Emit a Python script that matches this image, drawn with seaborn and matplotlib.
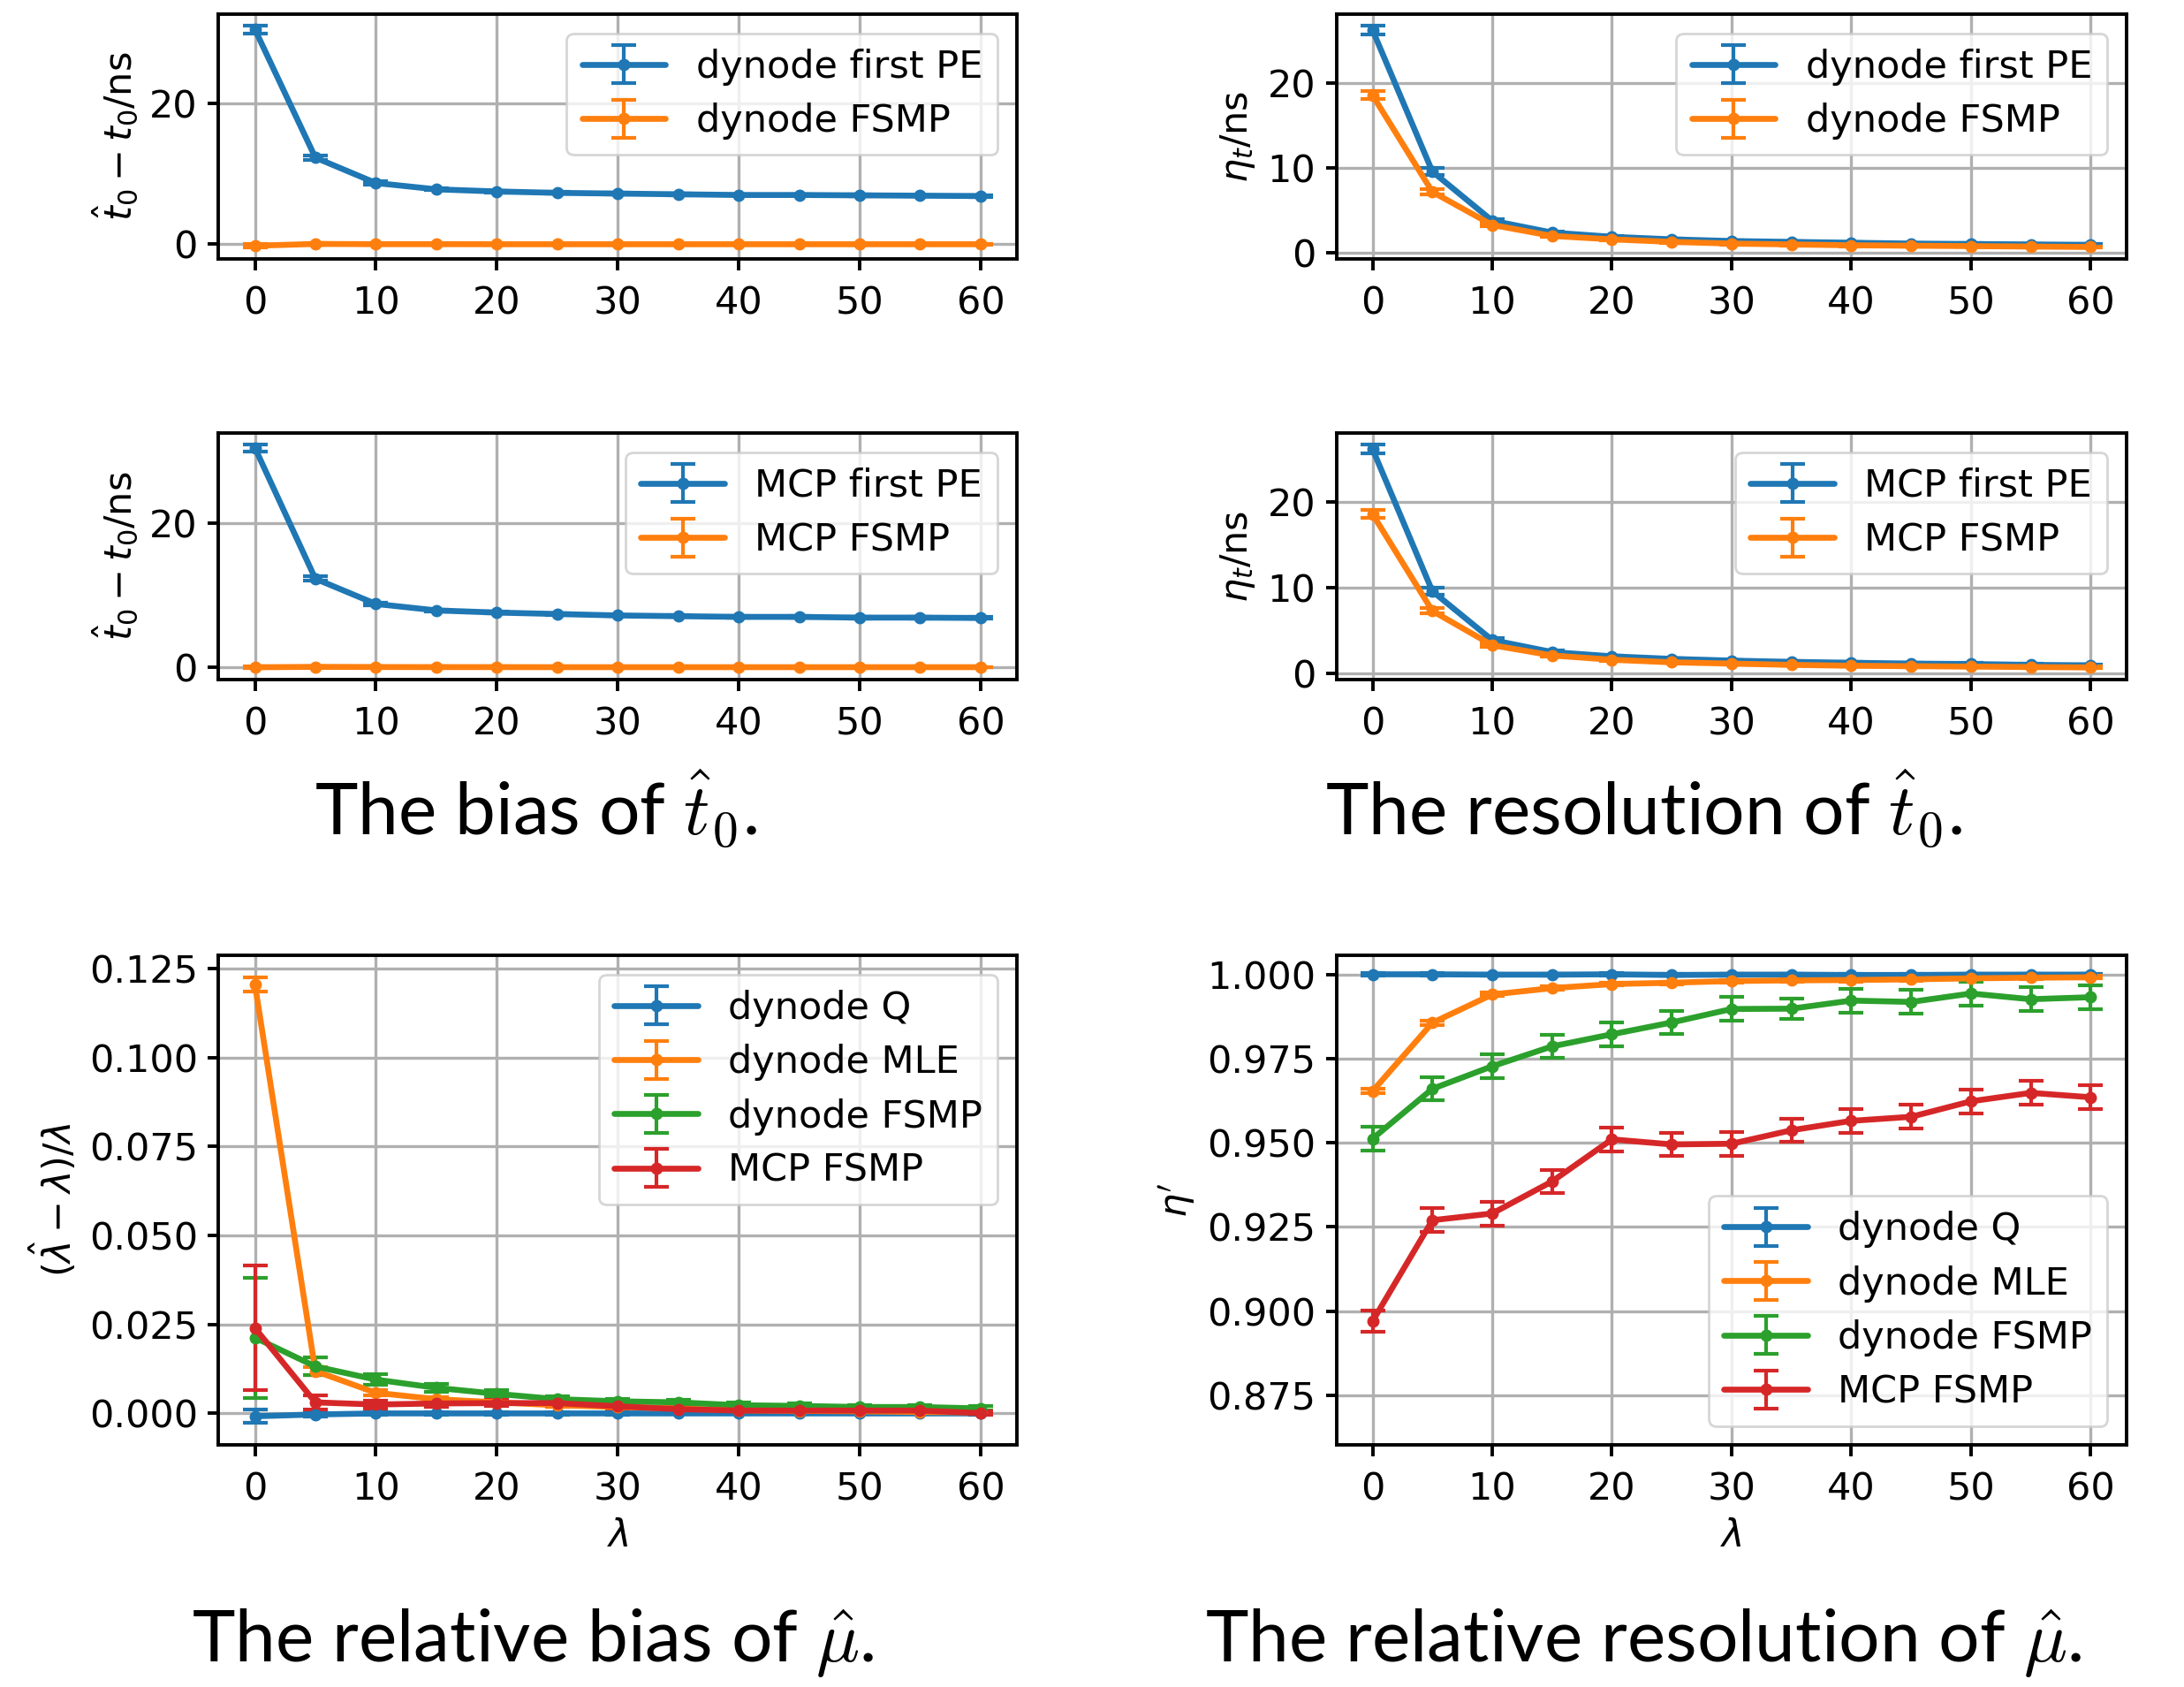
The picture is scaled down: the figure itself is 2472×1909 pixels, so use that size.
import numpy as np
import seaborn as sns
import matplotlib
matplotlib.use("Agg")
import matplotlib.pyplot as plt
from matplotlib.ticker import MultipleLocator, FormatStrFormatter

lam = [0, 5, 10, 15, 20, 25, 30, 35, 40, 45, 50, 55, 60]

# bias of t0 (ns)
dyn_first_bias = [30.5, 12.3, 8.7, 7.8, 7.5, 7.3, 7.2, 7.1, 7.0, 7.0, 6.95, 6.9, 6.85]
dyn_first_bias_err = [0.58, 0.3, 0.2, 0.15, 0.12, 0.1, 0.1, 0.1, 0.1, 0.1, 0.1, 0.1, 0.1]
dyn_fsmp_bias = [-0.2, 0.05, 0.02, 0.02, 0.01, 0.01, 0.01, 0.01, 0.01, 0.01, 0.01, 0.01, 0.01]
dyn_fsmp_bias_err = [0.3, 0.1, 0.08, 0.07, 0.06, 0.05, 0.05, 0.05, 0.05, 0.05, 0.05, 0.05, 0.05]
mcp_first_bias = [30.5, 12.3, 8.8, 7.9, 7.6, 7.4, 7.2, 7.1, 7.0, 7.0, 6.9, 6.9, 6.85]
mcp_first_bias_err = [0.5, 0.3, 0.2, 0.15, 0.12, 0.1, 0.1, 0.1, 0.1, 0.1, 0.1, 0.1, 0.1]
mcp_fsmp_bias = [0.0, 0.05, 0.03, 0.02, 0.02, 0.01, 0.01, 0.01, 0.01, 0.01, 0.01, 0.01, 0.01]
mcp_fsmp_bias_err = [0.15, 0.08, 0.06, 0.05, 0.05, 0.04, 0.04, 0.04, 0.04, 0.04, 0.04, 0.04, 0.04]

# resolution of t0 (ns)
dyn_first_res = [26.3, 9.6, 3.8, 2.4, 1.9, 1.6, 1.4, 1.3, 1.2, 1.1, 1.05, 1.0, 0.95]
dyn_first_res_err = [0.55, 0.4, 0.2, 0.15, 0.12, 0.1, 0.1, 0.1, 0.1, 0.1, 0.1, 0.1, 0.1]
dyn_fsmp_res = [18.6, 7.2, 3.3, 2.0, 1.6, 1.3, 1.1, 1.0, 0.9, 0.85, 0.8, 0.75, 0.7]
dyn_fsmp_res_err = [0.48, 0.3, 0.2, 0.15, 0.12, 0.1, 0.1, 0.1, 0.1, 0.1, 0.1, 0.1, 0.1]
mcp_first_res = [26.2, 9.6, 3.9, 2.5, 2.0, 1.7, 1.5, 1.35, 1.25, 1.15, 1.1, 1.0, 0.95]
mcp_first_res_err = [0.55, 0.4, 0.2, 0.15, 0.12, 0.1, 0.1, 0.1, 0.1, 0.1, 0.1, 0.1, 0.1]
mcp_fsmp_res = [18.6, 7.3, 3.3, 2.1, 1.6, 1.3, 1.15, 1.0, 0.9, 0.85, 0.8, 0.75, 0.7]
mcp_fsmp_res_err = [0.45, 0.3, 0.2, 0.15, 0.12, 0.1, 0.1, 0.1, 0.1, 0.1, 0.1, 0.1, 0.1]

# relative bias of mu
q_bias = [-0.0008, -0.0003, 0.0, 0.0, 0.0, 0.0, 0.0, 0.0, 0.0, 0.0, 0.0, 0.0, 0.0]
q_bias_err = [0.0018, 0.0006, 0.0004, 0.0003, 0.0003, 0.0003, 0.0003, 0.0002, 0.0002, 0.0002, 0.0002, 0.0002, 0.0002]
mle_bias = [0.1206, 0.0119, 0.0058, 0.004, 0.0031, 0.0023, 0.0018, 0.0014, 0.0009, 0.0007, 0.0006, 0.0004, 0.0003]
mle_bias_err = [0.0019, 0.0012, 0.0008, 0.0006, 0.0005, 0.0004, 0.0004, 0.0004, 0.0003, 0.0003, 0.0003, 0.0003, 0.0003]
fsmp_bias = [0.0213, 0.0132, 0.0095, 0.0072, 0.0055, 0.004, 0.0034, 0.0031, 0.0023, 0.0021, 0.0018, 0.0018, 0.0014]
fsmp_bias_err = [0.0169, 0.0025, 0.0015, 0.0012, 0.001, 0.0009, 0.0008, 0.0008, 0.0007, 0.0007, 0.0006, 0.0006, 0.0006]
mcp_bias = [0.024, 0.0031, 0.0025, 0.0028, 0.0029, 0.0029, 0.002, 0.0012, 0.0008, 0.0008, 0.0008, 0.0008, 0.0001]
mcp_bias_err = [0.0175, 0.002, 0.0012, 0.001, 0.0009, 0.0008, 0.0008, 0.0007, 0.0007, 0.0006, 0.0006, 0.0006, 0.0006]

# relative resolution of mu
q_res = [1.0, 1.0, 0.9999, 0.9999, 1.0, 0.9998, 0.9999, 0.9999, 0.9998, 0.9998, 0.9999, 0.9999, 0.9999]
q_res_err = [0.0003, 0.0003, 0.0003, 0.0003, 0.0003, 0.0003, 0.0003, 0.0003, 0.0003, 0.0003, 0.0003, 0.0003, 0.0003]
mle_res = [0.9653, 0.9856, 0.994, 0.9959, 0.9971, 0.9975, 0.998, 0.9982, 0.9983, 0.9985, 0.9988, 0.999, 0.9991]
mle_res_err = [0.0007, 0.0006, 0.0005, 0.0005, 0.0005, 0.0004, 0.0004, 0.0004, 0.0004, 0.0004, 0.0004, 0.0004, 0.0004]
fsmp_res = [0.9512, 0.966, 0.9727, 0.9786, 0.9822, 0.9857, 0.9897, 0.9898, 0.9922, 0.9918, 0.9943, 0.9926, 0.9932]
fsmp_res_err = [0.0035, 0.0035, 0.0035, 0.0035, 0.0035, 0.0035, 0.0035, 0.003, 0.0035, 0.0035, 0.0035, 0.0035, 0.0035]
mcp_res = [0.897, 0.927, 0.929, 0.9385, 0.951, 0.9495, 0.9497, 0.9537, 0.9565, 0.9577, 0.9623, 0.9648, 0.9635]
mcp_res_err = [0.0032, 0.0035, 0.0035, 0.0035, 0.0035, 0.0035, 0.0035, 0.0035, 0.0035, 0.0035, 0.0035, 0.0035, 0.0035]

FS = 15.5
sns.set_theme(style="ticks", palette="tab10", rc={
    "axes.grid": True, "grid.color": "#b0b0b0", "grid.linewidth": 1.2,
    "axes.edgecolor": "black", "axes.linewidth": 1.4,
    "text.color": "black", "axes.labelcolor": "black",
    "xtick.color": "black", "ytick.color": "black",
    "xtick.labelsize": FS, "ytick.labelsize": FS,
    "axes.labelsize": FS, "legend.fontsize": FS,
    "xtick.major.width": 1.4, "ytick.major.width": 1.4,
    "xtick.major.size": 4.5, "ytick.major.size": 4.5,
    "xtick.major.pad": 6, "ytick.major.pad": 4,
})
plt.rcParams["font.family"] = ["DejaVu Sans"]
pal = sns.color_palette("tab10")

fig = plt.figure(figsize=(12.36, 9.545), dpi=200)

def panel(rect, series, ylabel, legloc, xlabel=None):
    ax = fig.add_axes(rect)
    for (y, e, lab), c in zip(series, pal):
        ax.errorbar(lam, y, yerr=e, fmt=".-", color=c, label=lab,
                    lw=2.4, ms=8, capsize=5, elinewidth=1.5, capthick=1.5)
    ax.set_xticks([0, 10, 20, 30, 40, 50, 60])
    ax.set_ylabel(ylabel)
    if xlabel:
        ax.set_xlabel(xlabel)
    leg = ax.legend(loc=legloc, frameon=True, framealpha=0.8, edgecolor="0.8",
                    fancybox=True, labelspacing=0.45, handlelength=2.2)
    # legend handles look a bit heavier than the plotted lines
    for ln in leg.get_lines():
        if ln.get_linestyle() == "-":
            ln.set_linewidth(3.2)
    ax.grid(True)
    return ax

panel([0.1001, 0.8465, 0.3655, 0.1451],
      [(dyn_first_bias, dyn_first_bias_err, "dynode first PE"),
       (dyn_fsmp_bias, dyn_fsmp_bias_err, "dynode FSMP")],
      r"$\hat{t}_0 - t_0$/ns", "upper right")
panel([0.612, 0.8465, 0.3617, 0.1451],
      [(dyn_first_res, dyn_first_res_err, "dynode first PE"),
       (dyn_fsmp_res, dyn_fsmp_res_err, "dynode FSMP")],
      r"$\eta_t$/ns", "upper right")
panel([0.1001, 0.5972, 0.3655, 0.1461],
      [(mcp_first_bias, mcp_first_bias_err, "MCP first PE"),
       (mcp_fsmp_bias, mcp_fsmp_bias_err, "MCP FSMP")],
      r"$\hat{t}_0 - t_0$/ns", "upper right")
panel([0.612, 0.5972, 0.3617, 0.1461],
      [(mcp_first_res, mcp_first_res_err, "MCP first PE"),
       (mcp_fsmp_res, mcp_fsmp_res_err, "MCP FSMP")],
      r"$\eta_t$/ns", "upper right")
ax = panel([0.1001, 0.1435, 0.3655, 0.2902],
           [(q_bias, q_bias_err, "dynode Q"),
            (mle_bias, mle_bias_err, "dynode MLE"),
            (fsmp_bias, fsmp_bias_err, "dynode FSMP"),
            (mcp_bias, mcp_bias_err, "MCP FSMP")],
           r"$(\hat{\lambda} - \lambda)/\lambda$", "upper right", r"$\lambda$")
ax.yaxis.set_major_locator(MultipleLocator(0.025))
ax.yaxis.set_major_formatter(FormatStrFormatter("%.3f"))
ax = panel([0.612, 0.1435, 0.3617, 0.2902],
           [(q_res, q_res_err, "dynode Q"),
            (mle_res, mle_res_err, "dynode MLE"),
            (fsmp_res, fsmp_res_err, "dynode FSMP"),
            (mcp_res, mcp_res_err, "MCP FSMP")],
           r"$\eta'$", "lower right", r"$\lambda$")
ax.set_ylim(bottom=0.8603)

cap = dict(fontsize=29.5, family="Lato", math_fontfamily="cm", ha="center", va="center")
fig.text(0.2455, 0.521, r"The bias of $\hat{t}_0$.", **cap)
fig.text(0.7525, 0.521, r"The resolution of $\hat{t}_0$.", **cap)
fig.text(0.244, 0.026, r"The relative bias of $\hat{\mu}$.", **cap)
fig.text(0.7525, 0.026, r"The relative resolution of $\hat{\mu}$.", **cap)

fig.savefig("out.png", dpi=200)
